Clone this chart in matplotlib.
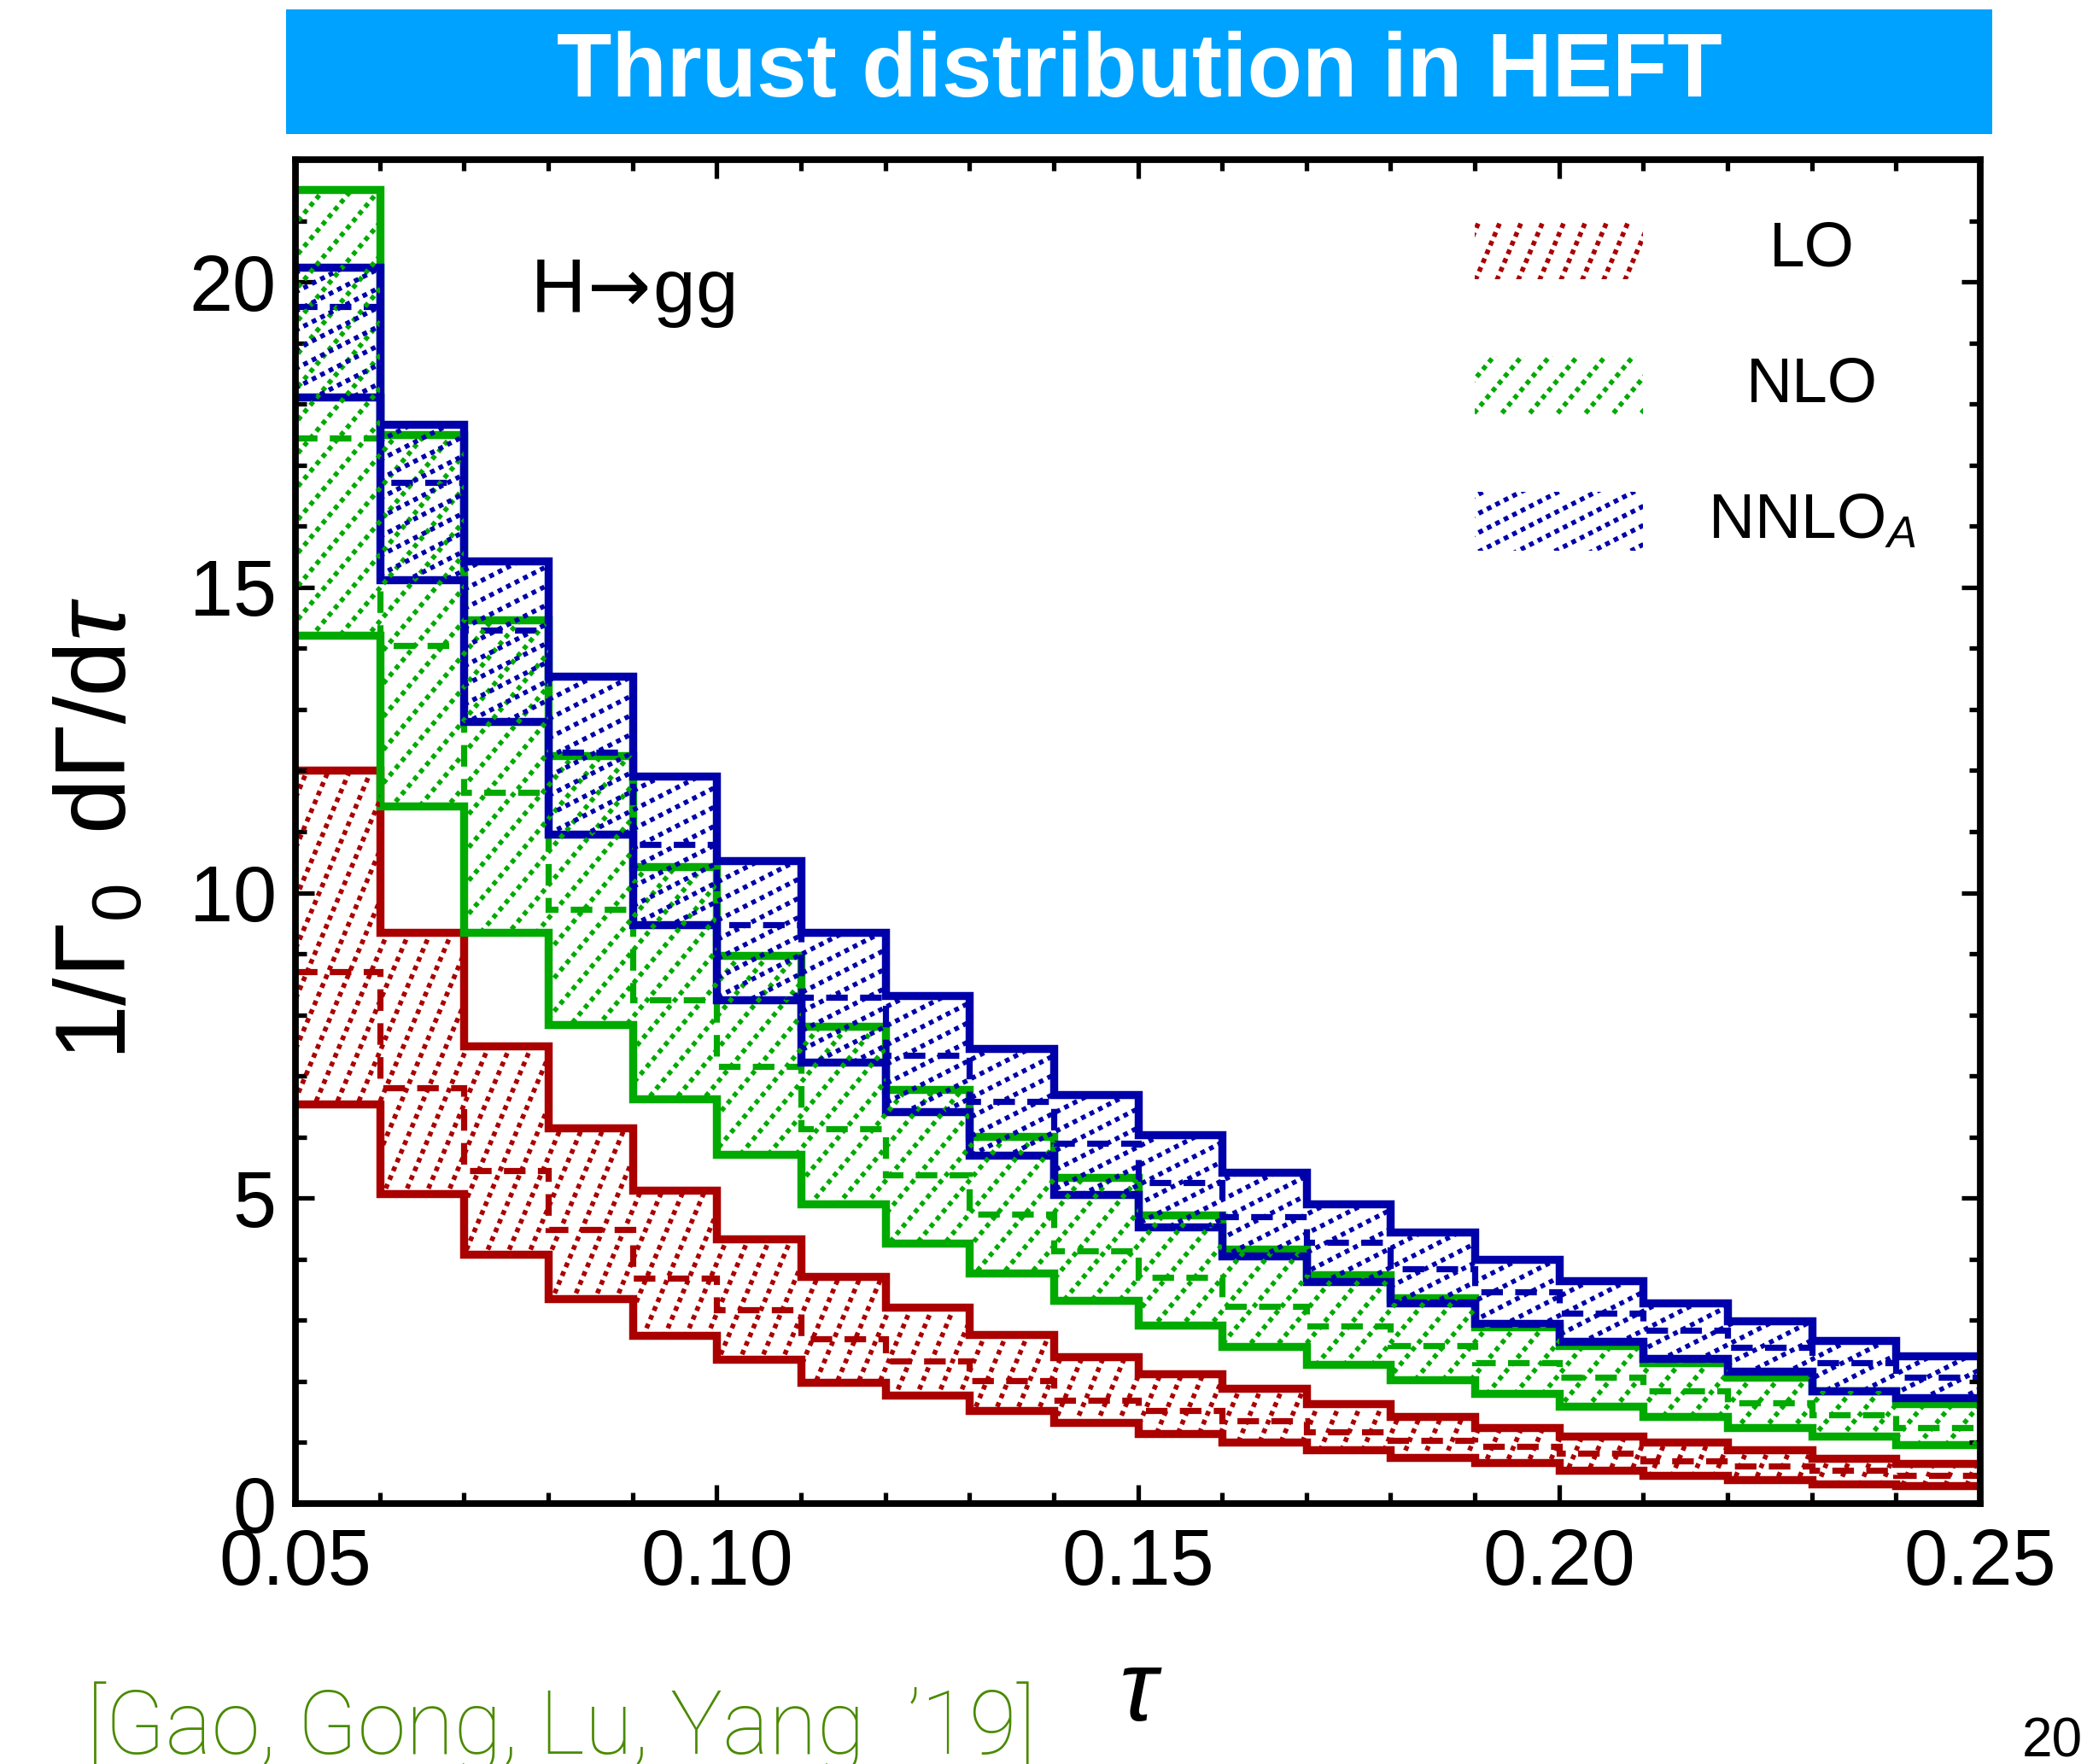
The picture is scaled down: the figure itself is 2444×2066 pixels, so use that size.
import numpy as np
import matplotlib
matplotlib.use("Agg")
import matplotlib.pyplot as plt
from matplotlib.collections import LineCollection
from matplotlib.patches import Rectangle
from matplotlib.ticker import MultipleLocator

plt.rcParams['font.family'] = ['Liberation Sans', 'DejaVu Sans']
plt.rcParams['mathtext.fontset'] = 'custom'
plt.rcParams['mathtext.rm'] = 'Liberation Sans'
plt.rcParams['mathtext.it'] = 'Liberation Sans:italic'
plt.rcParams['mathtext.bf'] = 'Liberation Sans:bold'
plt.rcParams['mathtext.sf'] = 'DejaVu Sans'

# bin edges in tau
edges = [0.05, 0.06, 0.07, 0.08, 0.09, 0.10, 0.11, 0.12, 0.13, 0.14, 0.15,
         0.16, 0.17, 0.18, 0.19, 0.20, 0.21, 0.22, 0.23, 0.24, 0.25]

# LO band (upper / central / lower)
lo_hi = [12.0, 9.35, 7.49, 6.15, 5.13, 4.33, 3.72, 3.21, 2.77, 2.41,
         2.12, 1.88, 1.63, 1.42, 1.25, 1.11, 1.00, 0.88, 0.74, 0.65]
lo_mid = [8.71, 6.81, 5.45, 4.48, 3.69, 3.17, 2.70, 2.33, 2.01, 1.69,
          1.53, 1.35, 1.18, 1.04, 0.94, 0.82, 0.70, 0.62, 0.55, 0.46]
lo_lo = [6.54, 5.07, 4.08, 3.35, 2.76, 2.36, 1.98, 1.77, 1.53, 1.33,
         1.14, 1.00, 0.88, 0.76, 0.67, 0.55, 0.46, 0.39, 0.32, 0.30]

# NLO band
nlo_hi = [21.51, 17.50, 14.46, 12.25, 10.43, 8.97, 7.81, 6.78, 6.01, 5.34,
          4.72, 4.16, 3.74, 3.37, 2.90, 2.58, 2.30, 2.07, 1.84, 1.63]
nlo_mid = [17.45, 14.05, 11.64, 9.73, 8.25, 7.15, 6.13, 5.38, 4.74, 4.14,
           3.70, 3.23, 2.91, 2.58, 2.30, 2.07, 1.84, 1.65, 1.46, 1.25]
nlo_lo = [14.21, 11.42, 9.35, 7.84, 6.62, 5.71, 4.90, 4.27, 3.77, 3.33,
          2.92, 2.57, 2.28, 2.02, 1.81, 1.60, 1.42, 1.25, 1.11, 0.96]

# NNLO_A band
nnlo_hi = [20.24, 17.67, 15.43, 13.54, 11.91, 10.52, 9.35, 8.31, 7.45, 6.70,
           6.04, 5.42, 4.90, 4.44, 4.00, 3.65, 3.29, 2.99, 2.67, 2.42]
nnlo_mid = [19.60, 16.72, 14.30, 12.30, 10.79, 9.48, 8.29, 7.34, 6.58, 5.90,
            5.26, 4.70, 4.28, 3.84, 3.46, 3.12, 2.84, 2.56, 2.30, 2.07]
nnlo_lo = [18.11, 15.12, 12.80, 10.96, 9.48, 8.25, 7.23, 6.42, 5.70, 5.06,
           4.53, 4.06, 3.64, 3.28, 2.95, 2.65, 2.37, 2.16, 1.84, 1.74]

labels = ['LO', 'NLO', r'NNLO$_{A}$']
colors = ['#AA0000', '#00AA00', '#0000AA']

W_PX, H_PX = 2444, 2066
DPI = 200
fig = plt.figure(figsize=(W_PX / DPI, H_PX / DPI), dpi=DPI)
pos = [346 / W_PX, 1 - 1761 / H_PX, (2319 - 346) / W_PX, (1761 - 187) / H_PX]
ax = fig.add_axes(pos)
AX_W = pos[2] * W_PX
AX_H = pos[3] * H_PX


def hatch(clip, angle, spacing, color):
    # dotted diagonal lines drawn in axes pixels, clipped to a patch
    th = np.radians(angle)
    d = np.array([np.cos(th), np.sin(th)])
    n = np.array([-np.sin(th), np.cos(th)])
    corners = np.array([[0, 0], [AX_W, 0], [0, AX_H], [AX_W, AX_H]])
    proj = corners @ n
    L = AX_W + AX_H
    segs = []
    for c in np.arange(proj.min(), proj.max() + spacing, spacing):
        p0 = c * n - L * d
        p1 = c * n + L * d
        segs.append([(p0[0] / AX_W, p0[1] / AX_H), (p1[0] / AX_W, p1[1] / AX_H)])
    lc = LineCollection(segs, transform=ax.transAxes, colors=color,
                        linewidths=2.0, linestyles=[(0, (1.0, 1.0))])
    ax.add_collection(lc, autolim=False)
    lc.set_clip_path(clip)


bands = [(lo_hi, lo_mid, lo_lo), (nlo_hi, nlo_mid, nlo_lo), (nnlo_hi, nnlo_mid, nnlo_lo)]
angles = [67, 50, 27]
spacings = [23, 25, 20]

for (hi, mid, low), c, a, s in zip(bands, colors, angles, spacings):
    band = ax.stairs(hi, edges, baseline=low, fill=True, facecolor='none',
                     edgecolor='none', linewidth=0)
    hatch(band, a, s, c)
    ax.stairs(mid, edges, baseline=None, color=c, lw=2.6, linestyle=(0, (3.5, 2)))
    ax.stairs(hi, edges, baseline=None, color=c, lw=3.4)
    ax.stairs(low, edges, baseline=None, color=c, lw=3.4)

# legend drawn by hand
leg_y = [0.933, 0.832, 0.731]
for lab, c, a, s, y in zip(labels, colors, angles, spacings, leg_y):
    r = Rectangle((0.700, y - 0.022), 0.100, 0.044, transform=ax.transAxes,
                  facecolor='none', edgecolor='none', lw=0)
    ax.add_patch(r)
    hatch(r, a, s, c)
    ax.text(0.900, y, lab, transform=ax.transAxes, ha='center', va='center',
            fontsize=27)

ax.text(0.09, 19.8, r'H$\!\mathsf{\rightarrow}\!$gg', ha='center', va='center',
        fontsize=32)

ax.set_xlim(0.05, 0.25)
ax.set_ylim(0, 22)
ax.xaxis.set_major_locator(MultipleLocator(0.05))
ax.xaxis.set_minor_locator(MultipleLocator(0.01))
ax.yaxis.set_major_locator(MultipleLocator(5))
ax.yaxis.set_minor_locator(MultipleLocator(1))
ax.set_xticks([0.05, 0.10, 0.15, 0.20, 0.25])
ax.set_xticklabels(['0.05', '0.10', '0.15', '0.20', '0.25'])
ax.tick_params(which='both', direction='in', top=True, right=True, width=1.9)
ax.tick_params(which='major', length=8, labelsize=33)
ax.tick_params(which='minor', length=4.7)
ax.tick_params(axis='x', which='major', pad=10)
ax.tick_params(axis='y', which='major', pad=8)
for sp in ax.spines.values():
    sp.set_linewidth(2.8)

fig.text(117 / W_PX, 1 - 970 / H_PX,
         r'$1/\Gamma_{0}\;\;\mathrm{d}\Gamma/\mathrm{d}\tau$',
         rotation=90, ha='center', va='center', fontsize=42)
fig.text(1333 / W_PX, 1 - 1985 / H_PX, 'τ', style='italic',
         ha='center', va='center', fontsize=42)

# title bar
fig.patches.append(Rectangle((335 / W_PX, 1 - 157 / H_PX), (2333 - 335) / W_PX,
                             146 / H_PX, transform=fig.transFigure,
                             facecolor='#00A2FF', edgecolor='none'))
fig.text(1334 / W_PX, 1 - 86 / H_PX, 'Thrust distribution in HEFT',
         color='white', weight='bold', ha='center', va='center', fontsize=38)

fig.text(101 / W_PX, 0.006, '[Gao, Gong, Lu, Yang  ’19]', color='#4A8A00',
         ha='left', va='baseline', fontsize=37, family=['Roboto', 'Liberation Sans'],
         weight='light')
fig.text(0.998, 0.004, '20', ha='right', va='baseline', fontsize=23)

fig.savefig('out.png', dpi=DPI)
